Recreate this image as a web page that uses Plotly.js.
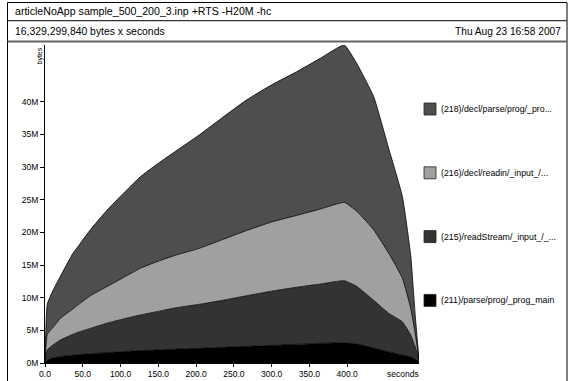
<!DOCTYPE html>
<html>
<head>
<meta charset="utf-8">
<script src="https://cdn.plot.ly/plotly-3.0.1.min.js"></script>
<style>html,body{margin:0;padding:0;background:#fff;}#chart{width:569px;height:381px;}</style>
</head>
<body>
<div id="chart"></div>
<script>
// ---- data (values in millions of bytes) ----
const seconds = [0,3,11,20,37,46,60,82,104,126,150,170,205,235,267,300,333,365,396,413,435,455,473,484,490,495];
const band211 = [0,0.46,0.75,1.0,1.2,1.3,1.4,1.6,1.75,1.9,2.0,2.1,2.25,2.4,2.55,2.7,2.85,3.0,3.1,2.9,2.3,1.7,1.25,0.9,0.6,0.2];
const band215 = [0,1.54,2.05,2.5,3.2,3.5,3.9,4.5,5.0,5.45,5.9,6.3,6.75,7.2,7.75,8.3,8.75,9.1,9.5,8.8,7.3,5.9,5.05,3.4,1.9,0.2];
const band216 = [0,2.4,2.7,3.3,3.9,4.3,5.0,5.6,6.35,7.15,7.7,8.0,8.6,9.3,10.0,10.6,11.0,11.5,12.0,11.5,10.8,9.2,6.7,4.1,2.0,0.1];
const band218 = [0,4.6,5.7,6.4,8.5,9.1,10.1,11.7,12.9,14.0,15.0,15.8,17.4,18.7,20.0,21.0,22.0,23.1,24.1,22.6,20.4,16.0,12.5,8.1,2.8,0];
const seriesNames = ["(211)/parse/prog/_prog_main","(215)/readStream/_input_/_...","(216)/decl/readin/_input_/...","(218)/decl/parse/prog/_pro..."];
const seriesColors = ["#000000","#333333","#a0a0a0","#4e4e4e"];
const xTickVals = [0,50,100,150,200,250,300,350,400];
const xTickText = ["0.0","50.0","100.0","150.0","200.0","250.0","300.0","350.0","400.0"];
const yTickVals = [0,5,10,15,20,25,30,35,40];
const yTickText = ["0M","5M","10M","15M","20M","25M","30M","35M","40M"];
const titleLine = "articleNoApp sample_500_200_3.inp +RTS -H20M -hc";
const totalLine = "16,329,299,840 bytes x seconds";
const dateLine = "Thu Aug 23 16:58 2007";

// ---- geometry ----
const W = 569, H = 381, L = 45, R = 419, T = 45, B = 363;
const px = x => (x - L) / (R - L);
const py = y => (B - y) / (B - T);
const FONT = "Liberation Sans, Arial, Helvetica, sans-serif";

const bands = [band211, band215, band216, band218];
const traces = bands.map((vals, i) => ({
  type: "scatter", mode: "lines", x: seconds, y: vals,
  stackgroup: "heap", name: seriesNames[i],
  line: {color: "#000", width: 0.8, shape: "spline", smoothing: 0.4},
  fillcolor: seriesColors[i], hoverinfo: "skip"
}));

const shapes = [
  {type:"rect", xref:"paper", yref:"paper", x0:px(7.5), x1:px(567), y0:py(395), y1:py(2.5), line:{color:"#000", width:1}},
  {type:"line", xref:"paper", yref:"paper", x0:px(7.5), x1:px(567), y0:py(20.7), y1:py(20.7), line:{color:"#333", width:1.2}},
  {type:"line", xref:"paper", yref:"paper", x0:px(7.5), x1:px(567), y0:py(41.5), y1:py(41.5), line:{color:"#666", width:2}}
];
const annotations = [
  {xref:"paper", yref:"paper", x:px(13), y:py(11.5), xanchor:"left", yanchor:"middle", text:titleLine, showarrow:false, font:{family:FONT, size:10.6, color:"#000"}},
  {xref:"paper", yref:"paper", x:px(13), y:py(31.5), xanchor:"left", yanchor:"middle", text:totalLine, showarrow:false, font:{family:FONT, size:10.4, color:"#000"}},
  {xref:"paper", yref:"paper", x:px(563), y:py(31.5), xanchor:"right", yanchor:"middle", text:dateLine, showarrow:false, font:{family:FONT, size:10.2, color:"#000"}},
  {xref:"paper", yref:"paper", x:px(39.5), y:py(56), xanchor:"center", yanchor:"middle", text:"bytes", textangle:-90, showarrow:false, font:{family:FONT, size:7, color:"#000"}},
  {xref:"paper", yref:"paper", x:px(403), y:py(373.5), xanchor:"center", yanchor:"middle", text:"seconds", showarrow:false, font:{family:FONT, size:8.5, color:"#000"}}
];
for (let k = 0; k < seriesNames.length; k++) {
  const i = seriesNames.length - 1 - k;
  const cy = 109 + k * 63.8;
  shapes.push({type:"rect", xref:"paper", yref:"paper", x0:px(424), x1:px(436), y0:py(cy+6), y1:py(cy-6), fillcolor:seriesColors[i], line:{color:"#222", width:0.8}});
  annotations.push({xref:"paper", yref:"paper", x:px(439), y:py(cy), xanchor:"left", yanchor:"middle", text:seriesNames[i], showarrow:false, font:{family:FONT, size:8.8, color:"#000"}});
}

const layout = {
  width: W, height: H,
  margin: {l: L, r: W - R, t: T, b: H - B, pad: 0},
  paper_bgcolor: "#fff", plot_bgcolor: "#fff",
  showlegend: false,
  xaxis: {range: [0, 495], tickvals: xTickVals, ticktext: xTickText, showgrid: false, zeroline: false,
          showline: true, linecolor: "#000", linewidth: 1, ticks: "outside", ticklen: 3, tickwidth: 1, tickcolor: "#000",
          tickfont: {family: FONT, size: 8.5, color: "#000"}},
  yaxis: {range: [0, 48.7], tickvals: yTickVals, ticktext: yTickText, showgrid: false, zeroline: false,
          showline: true, linecolor: "#000", linewidth: 1, ticks: "outside", ticklen: 4, tickwidth: 1, tickcolor: "#000",
          tickfont: {family: FONT, size: 8.5, color: "#000"}},
  shapes: shapes, annotations: annotations
};
Plotly.newPlot("chart", traces, layout, {staticPlot: true, displayModeBar: false});
</script>
</body>
</html>
